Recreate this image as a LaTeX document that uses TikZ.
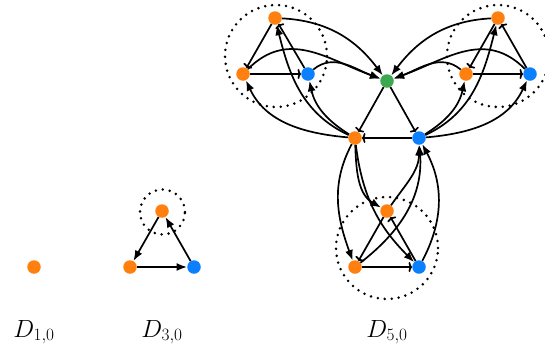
\documentclass[tikz,border=0pt]{standalone}
\usetikzlibrary{arrows.meta}
\definecolor{vorange}{RGB}{255,128,14}
\definecolor{vblue}{RGB}{10,128,255}
\definecolor{vgreen}{RGB}{60,168,80}
\begin{document}
\begin{tikzpicture}[x=1pt,y=1pt,
  vert/.style={circle,inner sep=0pt,minimum size=13.5pt},
  orn/.style={vert,fill=vorange},
  blu/.style={vert,fill=vblue},
  grn/.style={vert,fill=vgreen},
  edge/.style={line width=1.7pt,-{Latex[length=10.5pt,width=8pt]}},
  inedge/.style={line width=1.7pt,-{To[length=3.5pt,width=10pt]}},
  ring/.style={line width=2.8pt,line cap=round,dash pattern=on 0pt off 7pt},
  lbl/.style={font=\fontsize{24}{28}\selectfont,anchor=base}]
\useasboundingbox (0,0) rectangle (545,-349);
% rings
\draw[ring] (162.5,-212) circle (22.5);
\draw[ring] (276,-56) circle (51);
\draw[ring] (498,-56) circle (51);
\draw[ring] (387,-248) circle (51);
% D1
\node[orn] (a1) at (34,-267) {};
% D3
\node[orn] (d3t) at (162,-211) {};
\node[orn] (d3l) at (130,-267) {};
\node[blu] (d3r) at (194,-267) {};
\draw[edge] (d3t) -- (d3l);
\draw[edge] (d3l) -- (d3r);
\draw[edge] (d3r) -- (d3t);
% D5 central
\node[grn] (g) at (387,-81) {};
\node[orn] (L) at (355,-138) {};
\node[blu] (R) at (419,-138) {};
% TL
\node[orn] (tlt) at (275,-18) {};
\node[orn] (tll) at (243,-74) {};
\node[blu] (tlr) at (308,-74) {};
% TR
\node[orn] (trt) at (498,-18) {};
\node[orn] (trl) at (466,-74) {};
\node[blu] (trr) at (530,-74) {};
% bottom
\node[orn] (bt) at (387,-211) {};
\node[orn] (bl) at (355,-267) {};
\node[blu] (br) at (419,-267) {};
% inner edges
\draw[inedge] (g) -- (L);
\draw[inedge] (g) -- (R);
\draw[inedge] (R) -- (L);
\draw[inedge] (tlt) -- (tll);
\draw[inedge] (tll) -- (tlr);
\draw[inedge] (tlr) -- (tlt);
\draw[inedge] (trt) -- (trl);
\draw[inedge] (trl) -- (trr);
\draw[inedge] (trr) -- (trt);
\draw[inedge] (bt) -- (bl);
\draw[inedge] (bl) -- (br);
\draw[inedge] (br) -- (bt);
% TL connections
\draw[edge] (tlt) to[out=-3,in=127] (g);
\draw[edge] (tll) to[out=45,in=160,looseness=1.1] (g);
\draw[edge] (tlr) to[out=40,in=160] (g);
\draw[edge] (L) to[out=175,in=-65] (tll);
\draw[edge] (L) to[out=148,in=-78] (tlr);
\draw[edge] (L) to[out=155,in=-76] (tlt);
% TR connections
\draw[edge] (trt) to[out=183,in=53] (g);
\draw[edge] (trr) to[out=135,in=20,looseness=1.1] (g);
\draw[edge] (trl) to[out=140,in=20] (g);
\draw[edge] (R) to[out=5,in=-115] (trr);
\draw[edge] (R) to[out=32,in=-102] (trl);
\draw[edge] (R) to[out=25,in=-104] (trt);
% bottom connections
\draw[edge] (L) to[out=-88,in=150] (bt);
\draw[edge] (L) to[out=-118,in=110] (bl);
\draw[edge] (L) to[out=-83,in=135] (br);
\draw[edge] (bt) to[out=55,in=-90] (R);
\draw[edge] (bl) to[out=38,in=-86] (R);
\draw[edge] (br) to[out=62,in=-62] (R);
% labels
\node[lbl] (l1) at (34,-337) {$D_{1,0}$};
\node[lbl] (l3) at (162,-337) {$D_{3,0}$};
\node[lbl] (l5) at (387,-337) {$D_{5,0}$};
\end{tikzpicture}
\end{document}
